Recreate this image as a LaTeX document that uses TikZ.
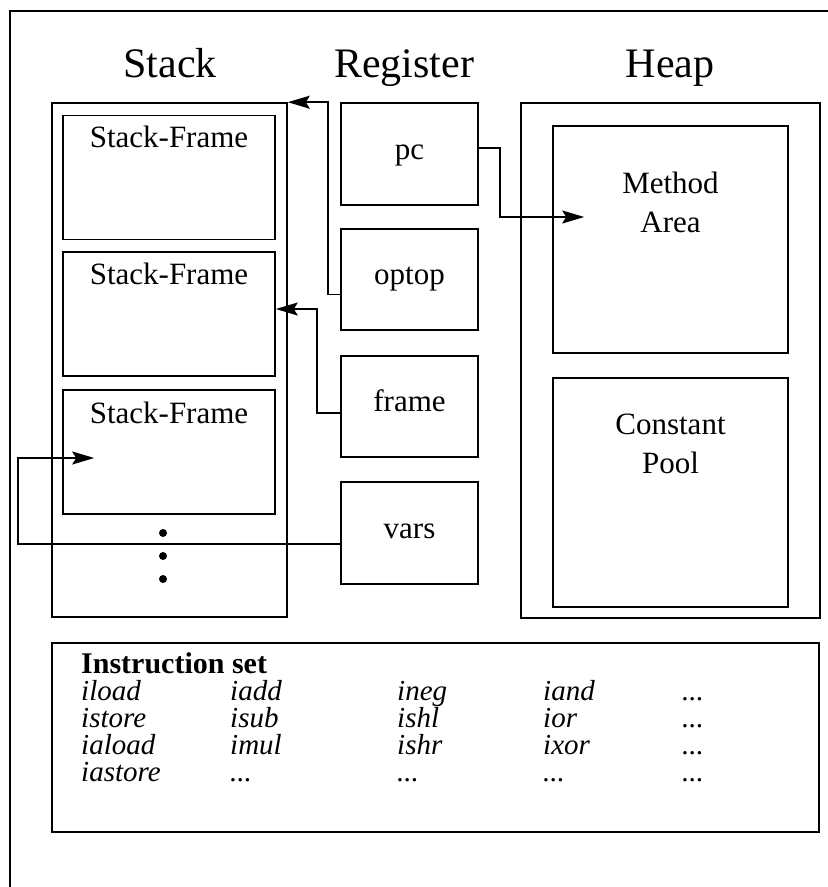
\documentclass[tikz,border=0pt]{standalone}
\usepackage{fontspec}
\setmainfont{Liberation Serif}
\usetikzlibrary{arrows.meta}
\begin{document}
\begin{tikzpicture}[x=1pt,y=-1pt,
  lw/.style={line width=1.6pt},
  box/.style={draw,lw,rectangle,inner sep=0pt},
  title/.style={font=\fontsize{42}{48}\selectfont,anchor=base,inner sep=0pt},
  lbl/.style={font=\fontsize{31}{39}\selectfont,inner sep=0pt},
  reg/.style={box,minimum width=137pt,minimum height=101pt,font=\fontsize{31}{39}\selectfont,text height=20pt,text depth=10pt},
  sframe/.style={box,minimum width=212pt,minimum height=124pt},
  ins/.style={font=\fontsize{29}{34}\selectfont\itshape,anchor=base west,inner sep=0pt},
  arr/.style={lw,-{Stealth[length=22pt,width=13pt,inset=4pt]}},
  dot/.style={circle,fill,inner sep=0pt,minimum size=8pt}
]
\useasboundingbox (0,0) rectangle (828,887);
% outer frame (open at right and bottom)
\draw[lw] (10,887) -- (10,11) -- (828,11);

% titles
\node[title] (tstack) at (170,77) {Stack};
\node[title] (treg) at (404,77) {Register};
\node[title] (theap) at (670,77) {Heap};

% stack
\node[box,minimum width=235pt,minimum height=514pt] (stack) at (169.5,360) {};
\node[sframe] (sf1) at (169,177.5) {};
\node[sframe] (sf2) at (169,314) {};
\node[sframe] (sf3) at (169,452) {};
\node[lbl,anchor=base] (sf1t) at ([yshift=-33pt]sf1.north) {Stack-Frame};
\node[lbl,anchor=base] (sf2t) at ([yshift=-33pt]sf2.north) {Stack-Frame};
\node[lbl,anchor=base] (sf3t) at ([yshift=-34pt]sf3.north) {Stack-Frame};
\node[dot] (d1) at (163,533) {};
\node[dot] (d2) at (163,556) {};
\node[dot] (d3) at (163,579) {};

% registers
\node[reg,minimum height=102pt] (pc) at (409.5,154) {pc};
\node[reg] (optop) at (409.5,279.5) {optop};
\node[reg] (frame) at (409.5,406.5) {frame};
\node[reg,minimum height=102pt] (vars) at (409.5,533) {vars};

% heap
\node[box,minimum width=299pt,minimum height=515pt] (heap) at (670.5,360.5) {};
\node[box,minimum width=235pt,minimum height=227pt] (ma) at (670.5,239.5) {};
\node[box,minimum width=235pt,minimum height=229pt] (cp) at (670.5,492.5) {};
\node[lbl,align=center,anchor=north] (mat) at (670.5,171.8) {Method\\Area};
\node[lbl,align=center,anchor=north] (cpt) at (670.5,414) {Constant\\Pool};

% connectors
\draw[arr] ([yshift=-15pt]optop.west) -- ++(-12,0) |- (stack.north east);
\draw[arr] ([yshift=6pt]pc.east) -- ++(21,0) |- ([xshift=32pt,yshift=22.5pt]ma.west);
\draw[arr] ([yshift=-6.5pt]frame.west) -- ++(-23,0) |- ([yshift=5pt]sf2.east);
\draw[arr] ([yshift=-11pt]vars.west) -- ++(-322,0) |- ([xshift=32pt,yshift=-6pt]sf3.west);

% instruction set
\node[box,minimum width=767pt,minimum height=189pt] (instr) at (435.5,737.5) {};
\node[font=\fontsize{30}{34}\selectfont\bfseries,anchor=base west,inner sep=0pt] (ist) at (81,673) {Instruction set};
\node[ins] (i11) at (81,700) {iload};
\node[ins] (i12) at (230,700) {iadd};
\node[ins] (i13) at (397,700) {ineg};
\node[ins] (i14) at (543,700) {iand};
\node[ins] (i15) at (682,700) {...};
\node[ins] (i21) at (81,727) {istore};
\node[ins] (i22) at (230,727) {isub};
\node[ins] (i23) at (397,727) {ishl};
\node[ins] (i24) at (543,727) {ior};
\node[ins] (i25) at (682,727) {...};
\node[ins] (i31) at (81,754) {iaload};
\node[ins] (i32) at (230,754) {imul};
\node[ins] (i33) at (397,754) {ishr};
\node[ins] (i34) at (543,754) {ixor};
\node[ins] (i35) at (682,754) {...};
\node[ins] (i41) at (81,781) {iastore};
\node[ins] (i42) at (230,781) {...};
\node[ins] (i43) at (397,781) {...};
\node[ins] (i44) at (543,781) {...};
\node[ins] (i45) at (682,781) {...};
\end{tikzpicture}
\end{document}
